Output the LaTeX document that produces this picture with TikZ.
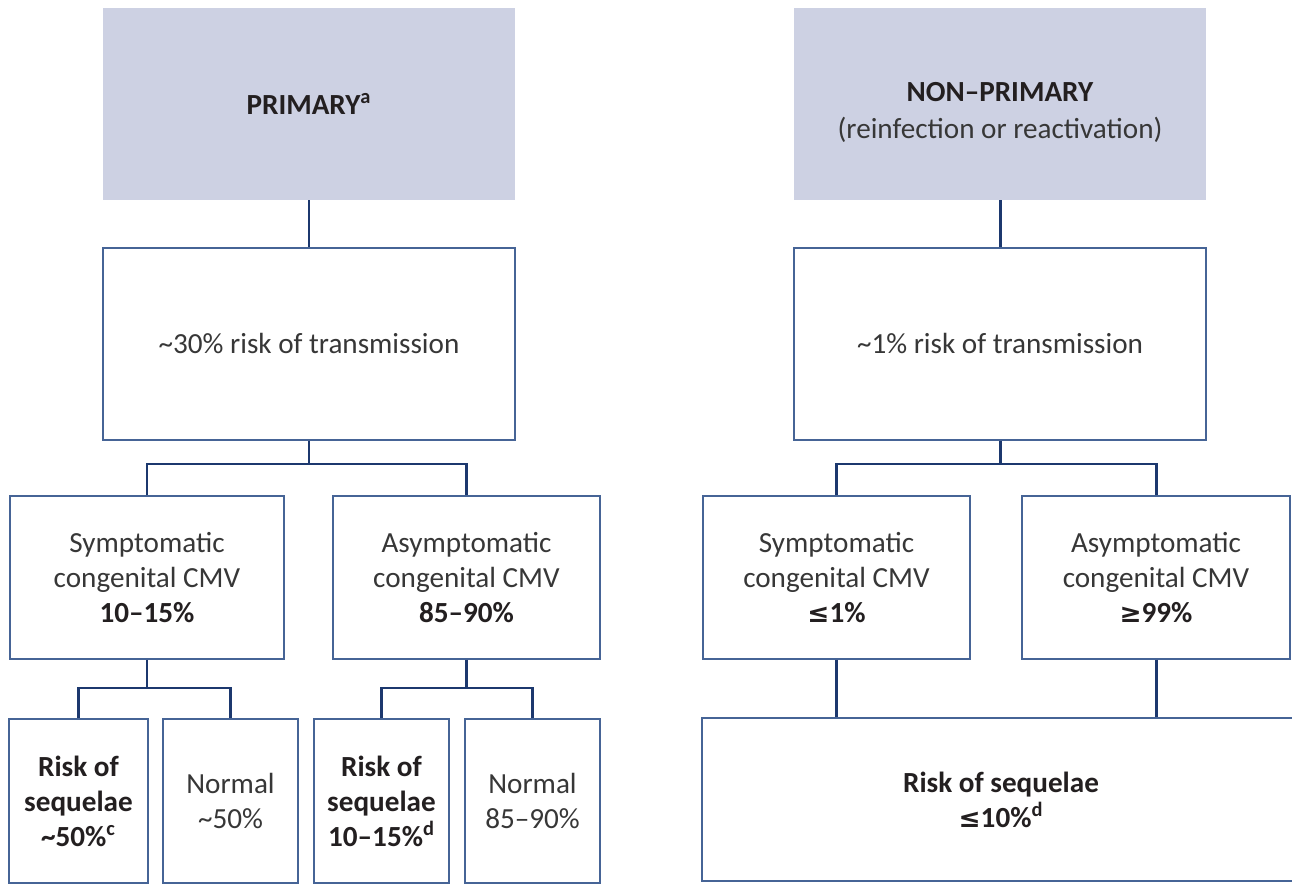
\documentclass[tikz,border=0pt]{standalone}
\usepackage{fontspec}
\setmainfont{Carlito}
\newfontfamily\symf{DejaVu Sans}
\definecolor{hdrfill}{RGB}{205,209,227}
\definecolor{conn}{RGB}{28,56,110}
\definecolor{bord}{RGB}{70,100,150}
\definecolor{txt}{RGB}{55,55,55}
\definecolor{btxt}{RGB}{35,31,32}
\newcommand{\myle}{{\symf\fontsize{15}{15}\selectfont ≤}}
\newcommand{\myge}{{\symf\fontsize{15}{15}\selectfont ≥}}
\tikzset{
  base/.style={inner sep=0pt, align=center, text=txt, font=\fontsize{16.6}{19.9}\selectfont},
  hdr/.style={base, fill=hdrfill, text=btxt},
  box/.style={base, draw=bord, line width=0.8pt, fill=white},
  link/.style={draw=conn, line width=1.7pt},
}
\begin{document}
\begin{tikzpicture}[x=0.02cm, y=-0.02cm]
\useasboundingbox (0,0) rectangle (1292,884);
% headers
\node[hdr, minimum width=8.24cm, minimum height=3.84cm] (H1) at (309,104) {\textbf{PRIMARY\textsuperscript{a}}};
\node[hdr, minimum width=8.24cm, minimum height=3.84cm] (H2) at (1000,104) {\raisebox{-0.18cm}[\height][\depth]{\begin{tabular}{@{}c@{}}\textbf{NON–PRIMARY}\\[1pt]{\color{txt}(reinfection or reactivation)}\end{tabular}}};
% transmission
\node[box, minimum width=8.24cm, minimum height=3.84cm] (T1) at (309,344) {\textasciitilde30\% risk of transmission};
\node[box, minimum width=8.24cm, minimum height=3.84cm] (T2) at (1000,344) {\textasciitilde1\% risk of transmission};
% level 2
\node[box, minimum width=5.48cm, minimum height=3.26cm] (S1) at (147,577.5) {Symptomatic\\congenital CMV\\\textcolor{btxt}{\textbf{10–15\%}}};
\node[box, minimum width=5.34cm, minimum height=3.26cm] (A1) at (466.5,577.5) {Asymptomatic\\congenital CMV\\\textcolor{btxt}{\textbf{85–90\%}}};
\node[box, minimum width=5.34cm, minimum height=3.26cm] (S2) at (836.5,577.5) {Symptomatic\\congenital CMV\\\textcolor{btxt}{\textbf{\myle1\%}}};
\node[box, minimum width=5.36cm, minimum height=3.26cm] (A2) at (1156,577.5) {Asymptomatic\\congenital CMV\\\textcolor{btxt}{\textbf{\myge99\%}}};
% level 3
\node[box, minimum width=2.78cm, minimum height=3.28cm, text=btxt] (R1) at (78.5,801) {\textbf{Risk of}\\\textbf{sequelae}\\\textbf{\textasciitilde50\%\textsuperscript{c}}};
\node[box, minimum width=2.70cm, minimum height=3.28cm] (N1) at (230.5,801) {Normal\\\textasciitilde50\%};
\node[box, minimum width=2.70cm, minimum height=3.28cm, text=btxt] (R2) at (381.5,801) {\textbf{Risk of}\\\textbf{sequelae}\\\textbf{10–15\%\textsuperscript{d}}};
\node[box, minimum width=2.70cm, minimum height=3.28cm] (N2) at (532.5,801) {Normal\\85–90\%};
\node[box, minimum width=11.96cm, minimum height=3.26cm, text=btxt] (R3) at (1001,799.5) {\textbf{Risk of sequelae}\\\textbf{\myle10\%\textsuperscript{d}}};
% connectors
\coordinate (j1) at (309,464);
\coordinate (j2) at (1000,464);
\coordinate (j3) at (147,688);
\coordinate (j4) at (466.5,688);
\draw[link] (H1.south) -- (T1.north);
\draw[link] (H2.south) -- (T2.north);
\draw[link] (T1.south) -- (j1);
\draw[link] (S1.north) |- (j1) -| (A1.north);
\draw[link] (T2.south) -- (j2);
\draw[link] (S2.north) |- (j2) -| (A2.north);
\draw[link] (S1.south) -- (j3);
\draw[link] (R1.north) |- (j3) -| (N1.north);
\draw[link] (A1.south) -- (j4);
\draw[link] (R2.north) |- (j4) -| (N2.north);
\draw[link] (S2.south) -- (S2.south |- R3.north);
\draw[link] (A2.south) -- (A2.south |- R3.north);
\end{tikzpicture}
\end{document}
